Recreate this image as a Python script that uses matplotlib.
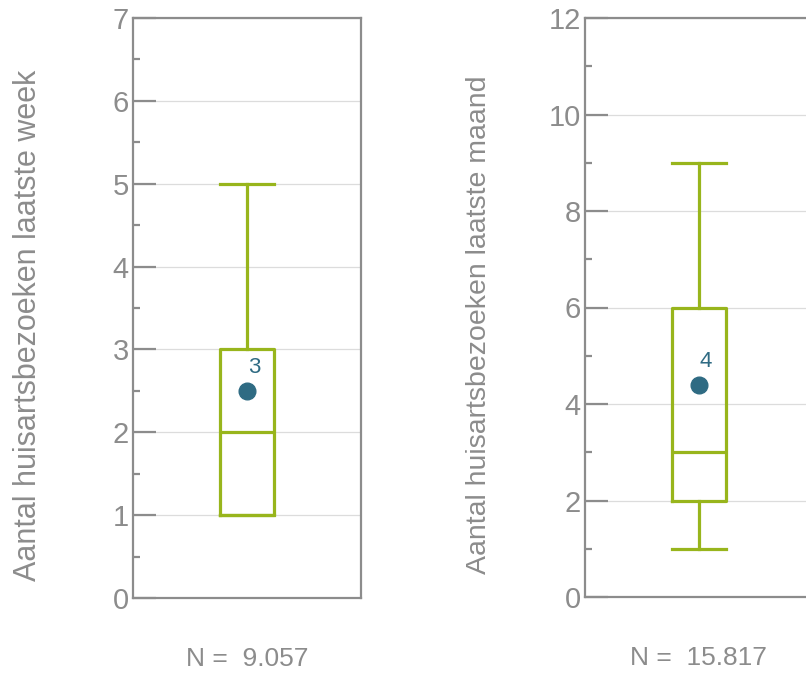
import matplotlib
matplotlib.use("Agg")
import matplotlib.pyplot as plt
from matplotlib.ticker import MultipleLocator

plt.rcParams['font.family'] = ['Liberation Sans', 'DejaVu Sans']

# data per panel: whisker low, q1, median, q3, whisker high, mean
ylabels = ["Aantal huisartsbezoeken laatste week", "Aantal huisartsbezoeken laatste maand"]
whislo = [1, 1]
q1 = [1, 2]
med = [2, 3]
q3 = [3, 6]
whishi = [5, 9]
means = [2.5, 4.4]
mean_labels = ["3", "4"]
n_labels = ["N =  9.057", "N =  15.817"]
ymax = [7, 12]
ystep = [1, 2]

green = "#98b51c"
teal = "#2f6b83"
gray = "#8c8c8c"

fig = plt.figure(figsize=(8.06, 6.75), dpi=100)
rects = [[133 / 806, 77 / 675, 228 / 806, 580 / 675],
         [585 / 806, 78 / 675, 228 / 806, 579 / 675]]
label_sizes = [22, 20.5]
label_x = [-0.395, -0.41]

for i in range(2):
    ax = fig.add_axes(rects[i])
    stats = [dict(whislo=whislo[i], q1=q1[i], med=med[i], q3=q3[i], whishi=whishi[i], fliers=[])]
    style = dict(color=green, linewidth=2.3)
    ax.bxp(stats, positions=[0], widths=0.24, showfliers=False,
           boxprops=style, medianprops=style, whiskerprops=style, capprops=style,
           capwidths=0.24)
    ax.plot([0], [means[i]], 'o', color=teal, markersize=12, zorder=5)
    ax.annotate(mean_labels[i], (0, means[i]), xytext=(5, 17), textcoords='offset points',
                color=teal, fontsize=16, ha='center', va='center')
    ax.set_xlim(-0.5, 0.5)
    ax.set_ylim(0, ymax[i])
    ax.yaxis.set_major_locator(MultipleLocator(ystep[i]))
    ax.yaxis.set_minor_locator(MultipleLocator(ystep[i] / 2))
    ax.set_xticks([])
    ax.tick_params(axis='y', which='major', direction='in', length=16.5, width=1.6,
                   color=gray, labelcolor=gray, labelsize=21, pad=3)
    ax.tick_params(axis='y', which='minor', direction='in', length=5, width=1.6, color=gray)
    ax.grid(axis='y', which='major', color='#dcdcdc', linewidth=0.9)
    ax.set_axisbelow(True)
    for s in ax.spines.values():
        s.set_color(gray)
        s.set_linewidth(1.6)
    ax.set_ylabel(ylabels[i], color=gray, fontsize=label_sizes[i])
    ax.yaxis.set_label_coords(label_x[i], 0.47)
    ax.text(0.5, -0.105, n_labels[i], transform=ax.transAxes, color=gray,
            fontsize=19, ha='center', va='center')

fig.savefig("out.png", dpi=100)
